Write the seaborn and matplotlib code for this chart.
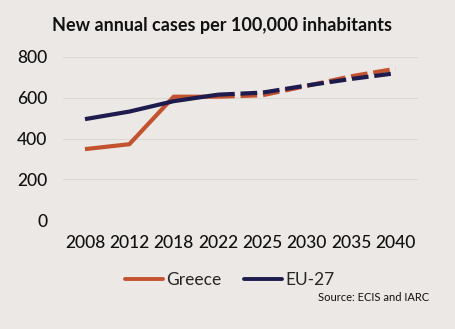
import matplotlib
matplotlib.use("Agg")
import matplotlib.pyplot as plt
import seaborn as sns
import pandas as pd
import numpy as np
from matplotlib.lines import Line2D

years = ["2008", "2012", "2018", "2022", "2025", "2030", "2035", "2040"]
greece = [348, 372, 605, 605, 612, 658, 705, 742]
eu27 = [495, 532, 583, 615, 625, 660, 692, 720]
last_observed = "2022"
yticks = [0, 200, 400, 600, 800]

bg = "#ECE8E5"
c_greece = "#C3522F"
c_eu = "#1E1C4E"

sns.set_theme(style="white")
plt.rcParams["font.family"] = ["Lato", "DejaVu Sans"]

fig = plt.figure(figsize=(4.55, 3.29), dpi=100, facecolor=bg)
ax = fig.add_axes([0.138, 0.331, 0.78, 0.496])
ax.set_facecolor(bg)

pos = np.arange(len(years))
split = years.index(last_observed)
df = pd.DataFrame({"pos": pos, "Greece": greece, "EU-27": eu27})

for name, color in [("Greece", c_greece), ("EU-27", c_eu)]:
    sns.lineplot(data=df.iloc[: split + 1], x="pos", y=name, ax=ax,
                 color=color, lw=3.0, solid_capstyle="butt")
    sns.lineplot(data=df.iloc[split:], x="pos", y=name, ax=ax,
                 color=color, lw=3.0, dashes=False, linestyle=(0, (4.0, 1.4)))

ax.set_ylim(0, 800)
ax.set_xlim(-0.5, len(years) - 0.5)
ax.set_yticks(yticks)
ax.set_xticks(pos)
ax.set_xticklabels(years)
ax.set_xlabel("")
ax.set_ylabel("")
ax.grid(axis="y", color="#DCD8D5", lw=0.8)
ax.set_axisbelow(True)
for s in ax.spines.values():
    s.set_visible(False)
ax.tick_params(axis="both", length=0, labelsize=12.5, colors="#111111")
ax.tick_params(axis="y", pad=11)
ax.tick_params(axis="x", pad=11)
for t in ax.get_yticklabels() + ax.get_xticklabels():
    t.set_fontweight("medium")

fig.text(0.488, 0.922, "New annual cases per 100,000 inhabitants", ha="center",
         va="center", fontsize=13, fontweight="bold", color="#111111")

handles = [Line2D([], [], color=c_greece, lw=2.8),
           Line2D([], [], color=c_eu, lw=2.8)]
fig.legend(handles, ["Greece", "EU-27"], loc="center", bbox_to_anchor=(0.505, 0.15),
           ncol=2, frameon=False, fontsize=12.5, handlelength=2.2,
           handletextpad=0.2, columnspacing=1.3)

fig.text(0.943, 0.097, "Source: ECIS and IARC", ha="right", va="center",
         fontsize=8, color="#111111")

fig.savefig("out.png", dpi=100, facecolor=bg)
